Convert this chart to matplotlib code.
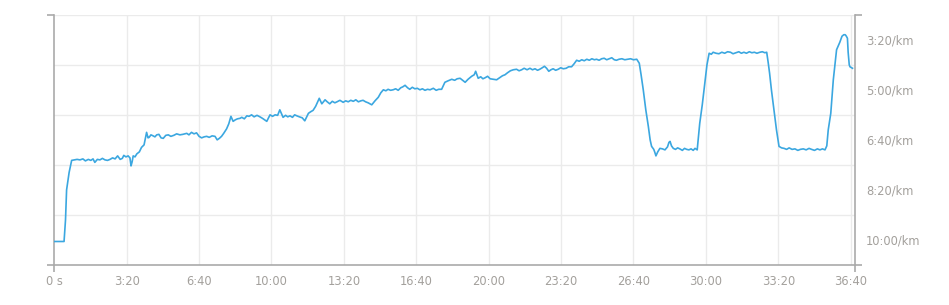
import matplotlib
matplotlib.use("Agg")
import matplotlib.pyplot as plt
from matplotlib.ticker import FixedLocator, FuncFormatter

# (elapsed time s, pace s/km), one list per stretch
warmup = [(0, 603), (27, 603), (31, 560), (34, 500), (41, 465), (48, 441),
          (56, 440), (63, 439), (71, 440), (79, 438), (86, 442), (94, 439),
          (101, 441), (107, 438), (112, 445), (119, 439), (126, 440),
          (133, 437), (140, 440), (147, 441), (154, 439), (161, 436),
          (168, 438), (175, 432), (182, 439), (188, 437), (192, 431),
          (198, 434), (204, 432), (209, 436), (212, 452), (215, 444),
          (218, 432), (223, 434), (228, 428), (235, 424), (241, 415),
          (248, 410)]
block_2 = [(255, 385), (259, 396), (262, 395), (267, 390), (273, 392),
           (278, 394), (283, 390), (289, 389), (295, 396), (301, 397),
           (308, 391), (315, 390), (322, 393), (330, 391), (338, 388),
           (347, 390), (355, 389), (366, 387), (372, 390), (379, 385),
           (386, 388), (393, 386), (400, 393), (407, 396), (414, 394),
           (421, 393), (428, 395), (436, 392), (444, 393), (450, 400),
           (456, 397), (462, 393), (468, 387), (476, 378), (482, 368)]
block_3 = [(488, 353), (494, 363), (500, 360), (506, 358), (513, 357),
           (518, 355), (525, 358), (532, 352), (538, 353), (545, 350),
           (552, 354), (560, 351), (568, 354), (575, 357), (581, 360),
           (587, 363), (596, 350), (603, 353), (610, 350), (617, 351),
           (623, 340), (632, 355), (639, 351), (645, 354), (651, 352),
           (658, 355), (664, 350), (670, 352), (677, 354), (685, 356),
           (692, 362), (702, 347), (708, 344), (715, 341), (722, 333)]
block_4 = [(732, 317), (739, 328), (748, 320), (754, 324), (761, 328),
           (768, 323), (775, 326), (781, 324), (789, 321), (798, 325),
           (805, 322), (812, 324), (819, 321), (826, 323), (833, 320),
           (840, 324), (847, 322), (853, 321), (860, 324), (867, 326),
           (877, 330), (886, 322), (895, 315), (902, 306)]
block_5 = [(909, 300), (916, 302), (922, 299), (929, 301), (936, 300),
           (943, 298), (950, 301), (957, 296), (963, 294), (969, 291),
           (976, 296), (982, 299), (989, 295), (996, 298), (1003, 297),
           (1010, 300), (1017, 298), (1024, 301), (1031, 299), (1038, 300),
           (1047, 297), (1055, 301), (1062, 299), (1070, 299)]
block_6 = [(1079, 285), (1088, 282), (1098, 279), (1106, 281), (1113, 278),
           (1121, 277), (1128, 281), (1135, 285), (1143, 279), (1153, 273),
           (1160, 270), (1164, 263), (1171, 277), (1178, 274), (1184, 278),
           (1190, 276), (1197, 273), (1204, 278), (1213, 279), (1222, 280),
           (1230, 276), (1238, 272), (1245, 270), (1252, 266), (1260, 262)]
block_7 = [(1268, 260), (1277, 259), (1284, 262), (1291, 260), (1298, 257),
           (1306, 260), (1314, 257), (1321, 260), (1328, 258), (1335, 261),
           (1341, 259), (1348, 256), (1354, 253), (1360, 257), (1366, 263),
           (1372, 260), (1378, 258), (1385, 261), (1392, 259), (1399, 256),
           (1406, 258), (1414, 257), (1421, 254), (1429, 254)]
block_8 = [(1436, 248), (1443, 241), (1450, 243), (1457, 240), (1464, 242),
           (1471, 239), (1478, 241), (1485, 238), (1492, 240), (1498, 239),
           (1505, 241), (1512, 238), (1519, 237), (1526, 240), (1533, 238),
           (1540, 236), (1547, 240), (1553, 241), (1560, 239), (1568, 238),
           (1576, 240), (1584, 239), (1592, 238), (1600, 240), (1609, 239),
           (1616, 247)]
interval_1 = [(1621, 270), (1627, 300), (1634, 340), (1641, 373),
              (1646, 400), (1650, 413), (1653, 416), (1656, 419),
              (1659, 425), (1662, 432), (1667, 424), (1673, 417),
              (1680, 418), (1687, 420), (1694, 414), (1698, 405),
              (1701, 403), (1705, 412), (1710, 417), (1716, 419),
              (1722, 416), (1728, 418), (1735, 421), (1741, 417),
              (1747, 419), (1753, 420), (1759, 418), (1765, 421),
              (1770, 417), (1776, 420), (1783, 367), (1790, 330),
              (1797, 287), (1803, 250)]
interval_2 = [(1809, 227), (1815, 229), (1820, 225), (1828, 227),
              (1836, 228), (1844, 225), (1852, 227), (1860, 224),
              (1868, 225), (1875, 228), (1883, 226), (1891, 224),
              (1898, 227), (1905, 225), (1912, 227), (1920, 224),
              (1927, 226), (1934, 225), (1941, 227), (1949, 225),
              (1956, 224), (1963, 226), (1968, 225), (1972, 245),
              (1976, 267), (1981, 300), (1988, 340), (1995, 380)]
interval_3 = [(2002, 413), (2009, 416), (2016, 417), (2023, 419),
              (2030, 416), (2038, 419), (2046, 418), (2054, 421),
              (2061, 419), (2069, 418), (2077, 420), (2085, 417),
              (2092, 419), (2100, 421), (2108, 418), (2115, 420),
              (2122, 418), (2129, 420), (2134, 412), (2138, 380),
              (2145, 347), (2152, 280)]
finish = [(2161, 220), (2170, 205), (2176, 193), (2181, 190), (2185, 190),
          (2188, 193), (2191, 197), (2193, 225), (2196, 250), (2198, 254),
          (2205, 257)]

x_labels_at = list(range(0, 2201, 200))
pace_labels_at = [200, 300, 400, 500, 600]
grid_at = [150, 250, 350, 450, 550]

x_max = 2211
y_top, y_bottom = 150, 650

line_color = "#3ba7e0"
text_color = "#a3a09c"
axis_color = "#aaaaaa"
grid_color = "#ebebeb"


def fmt_time(v, pos=None):
    v = int(round(v))
    if v == 0:
        return "0 s"
    return "%d:%02d" % (v // 60, v % 60)


def fmt_pace(v, pos=None):
    v = int(round(v))
    return "%d:%02d/km" % (v // 60, v % 60)


points = (warmup + block_2 + block_3 + block_4 + block_5 + block_6 +
          block_7 + block_8 + interval_1 + interval_2 + interval_3 + finish)
time_s = [p[0] for p in points]
pace_s = [p[1] for p in points]

fig = plt.figure(figsize=(9.49, 3.05), dpi=100)
ax = fig.add_axes([0.0572, 0.1311, 0.9006 - 0.0572, 0.9518 - 0.1311])

for g in grid_at:
    ax.axhline(g, color=grid_color, lw=1, zorder=0)
for t in x_labels_at[1:]:
    ax.axvline(t, color=grid_color, lw=1, zorder=0)

ax.plot(time_s, pace_s, color=line_color, lw=1.2, zorder=3)

ax.set_xlim(0, x_max)
ax.set_ylim(y_bottom, y_top)

for side in ["left", "right", "bottom"]:
    ax.spines[side].set_color(axis_color)
    ax.spines[side].set_linewidth(1.2)
ax.spines["top"].set_visible(False)

# outer ticks at the ends of each axis, labels on minor ticks
ax.xaxis.remove_overlapping_locs = False
ax.xaxis.set_major_locator(FixedLocator([0, x_max]))
ax.xaxis.set_minor_locator(FixedLocator(x_labels_at))
ax.xaxis.set_major_formatter(FuncFormatter(lambda v, p: ""))
ax.xaxis.set_minor_formatter(FuncFormatter(fmt_time))
ax.tick_params(axis="x", which="major", length=5, width=1.2, color=axis_color)
ax.tick_params(axis="x", which="minor", length=0, pad=7,
               labelsize=8.3, labelcolor=text_color)

ax.yaxis.set_major_locator(FixedLocator([y_top, y_bottom]))
ax.yaxis.set_minor_locator(FixedLocator(pace_labels_at))
ax.yaxis.set_major_formatter(FuncFormatter(lambda v, p: ""))
ax.yaxis.set_minor_formatter(FuncFormatter(fmt_pace))
ax.tick_params(axis="y", which="major", left=True, right=True, length=5,
               width=1.2, color=axis_color, labelleft=False, labelright=False)
ax.tick_params(axis="y", which="minor", left=False, right=True, length=0,
               labelleft=False, labelright=True, pad=8,
               labelsize=8.3, labelcolor=text_color)

fig.savefig("out.png", dpi=100)
